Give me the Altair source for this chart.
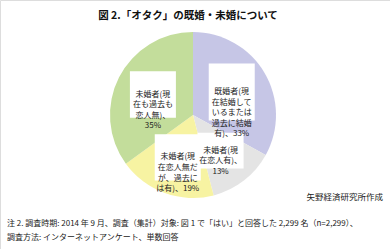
import altair as alt
import pandas as pd

categories = [
    "既婚者(現在結婚しているまたは過去に結婚有)",
    "未婚者(現在恋人有)",
    "未婚者(現在恋人無だが、過去には有)",
    "未婚者(現在も過去も恋人無)",
]
values = [33, 13, 19, 35]
label_lines = [
    "既婚者(現\n在結婚して\nいるまたは\n過去に結婚\n有)、33%",
    "未婚者(現\n在恋人有)、\n13%",
    "未婚者(現\n在恋人無だ\nが、過去に\nは有)、19%",
    "未婚者(現\n在も過去も\n恋人無)、\n35%",
]
colors = ["#c6c6e6", "#e4e4e4", "#f7f3a2", "#c3dd9b"]

title_text = "図 2.「オタク」の既婚・未婚について"
source_text = "矢野経済研究所作成"
note_lines = [
    "注 2. 調査時期: 2014 年 9 月、調査（集計）対象: 図 1 で「はい」と回答した 2,299 名（n=2,299）、",
    "調査方法: インターネットアンケート、単数回答",
]

CX, CY, R, LR = 193, 115, 83, 45
FONT = "Noto Sans CJK JP"

df = pd.DataFrame({
    "cat": categories,
    "pct": values,
    "label": label_lines,
    "idx": list(range(len(categories))),
})

base = alt.Chart(df)

pie = base.mark_arc(outerRadius=R).encode(
    theta=alt.Theta("pct:Q", stack=True),
    order=alt.Order("idx:O"),
    color=alt.Color("cat:N", sort=categories,
                    scale=alt.Scale(domain=categories, range=colors), legend=None),
    x=alt.value(CX),
    y=alt.value(CY),
)

pos = base.transform_window(
    cum="sum(pct)", sort=[alt.SortField("idx")]
).transform_calculate(
    ang="(datum.cum - datum.pct/2) / 100 * 2 * PI",
    nl="length(split(datum.label, '\\n'))",
).transform_calculate(
    px=f"{CX} + {LR} * sin(datum.ang)",
    py=f"{CY} - {LR} * cos(datum.ang)",
).transform_calculate(
    x1="datum.px - 23", x2="datum.px + 23",
    y1="datum.py - datum.nl * 5.3 - 2", y2="datum.py + datum.nl * 5.3 + 2",
)

boxes = pos.mark_rect(color="white").encode(
    x=alt.X("x1:Q", scale=None), x2="x2:Q",
    y=alt.Y("y1:Q", scale=None), y2="y2:Q",
)

labels = pos.mark_text(font=FONT, fontSize=8, lineHeight=10.6, color="#222",
                       align="center", baseline="middle", lineBreak="\n").encode(
    x=alt.X("px:Q", scale=None),
    y=alt.Y("py:Q", scale=None),
    text=alt.Text("label:N"),
)

tdf = pd.DataFrame({"t": [title_text]})
title = alt.Chart(tdf).mark_text(font=FONT, fontSize=10.5, fontWeight="bold",
                                 color="#111", align="center", baseline="middle").encode(
    x=alt.value(188), y=alt.value(16), text="t:N")

sdf = pd.DataFrame({"t": [source_text]})
source = alt.Chart(sdf).mark_text(font=FONT, fontSize=8.5, color="#222",
                                  align="right", baseline="middle").encode(
    x=alt.value(383), y=alt.value(197), text="t:N")

ndf = pd.DataFrame({"t": note_lines, "i": [0, 1]})
notes = alt.Chart(ndf).transform_calculate(
    yy="224 + datum.i * 14"
).mark_text(font=FONT, fontSize=8, color="#222", align="left", baseline="middle").encode(
    x=alt.value(7), y=alt.Y("yy:Q", scale=None), text="t:N")

chart = alt.layer(pie, boxes, labels, title, source, notes).properties(
    width=390, height=249, padding=0, autosize="none"
).configure_view(stroke=None).configure(background="white")

chart.save("out.html", embed_options={"renderer": "svg", "actions": False})
